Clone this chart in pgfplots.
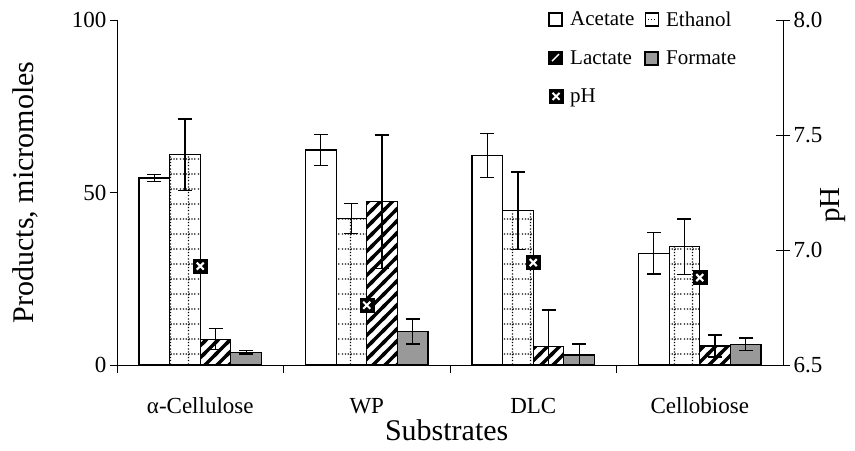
\documentclass[border=0pt]{standalone}
\usepackage{fontspec}
\setmainfont{Liberation Serif}
\usepackage{pgfplots}
\pgfplotsset{compat=1.18}
\usetikzlibrary{patterns}
\pgfdeclarepatternformonly{dotgrid}{\pgfqpoint{0pt}{0pt}}{\pgfqpoint{18pt}{15pt}}{\pgfqpoint{18pt}{15pt}}{%
  \pgfsetlinewidth{1.3pt}%
  \pgfsetdash{{1.3pt}{1.7pt}}{0pt}%
  \pgfpathmoveto{\pgfqpoint{0pt}{7.5pt}}\pgfpathlineto{\pgfqpoint{18pt}{7.5pt}}%
  \pgfpathmoveto{\pgfqpoint{9pt}{0pt}}\pgfpathlineto{\pgfqpoint{9pt}{15pt}}%
  \pgfusepath{stroke}}
\pgfdeclarepatternformonly{thickne}{\pgfqpoint{-2pt}{-2pt}}{\pgfqpoint{14pt}{14pt}}{\pgfqpoint{12pt}{12pt}}{%
  \pgfsetlinewidth{3.5pt}%
  \pgfpathmoveto{\pgfqpoint{-2pt}{-2pt}}\pgfpathlineto{\pgfqpoint{14pt}{14pt}}%
  \pgfpathmoveto{\pgfqpoint{-2pt}{10pt}}\pgfpathlineto{\pgfqpoint{2pt}{14pt}}%
  \pgfpathmoveto{\pgfqpoint{10pt}{-2pt}}\pgfpathlineto{\pgfqpoint{14pt}{2pt}}%
  \pgfusepath{stroke}}
\pgfplotsset{
  errs/.style={error bars/.cd, y dir=both, y explicit,
    error bar style={line width=1.3pt, black, solid},
    error mark options={rotate=90, line width=1.3pt, black, solid, mark size=7pt}},
}
\begin{document}
\begin{tikzpicture}
\begin{axis}[name=ax, scale only axis, width=666pt, height=345pt,
  xmin=-0.5, xmax=3.5, ymin=0, ymax=100,
  axis x line*=bottom, axis y line*=left,
  axis line style={line width=0.8pt},
  ybar=0pt, bar width=0.184,
  xtick={0,1,2,3}, xticklabels={α-Cellulose, WP, DLC, Cellobiose},
  major x tick style={draw=none},
  minor xtick={-0.5,0.5,1.5,2.5},
  minor tick length=8pt,
  ytick={0,50,100},
  tick align=outside, major tick length=7pt,
  tick style={black, line width=0.8pt},
  /pgf/number format/assume math mode=true,
  xticklabel style={font=\fontsize{23}{27}\selectfont, anchor=base, yshift=-41pt},
  yticklabel style={font=\fontsize{23}{27}\selectfont},
  ylabel={Products, micromoles},
  ylabel style={at={(axis description cs:-0.138,0.5)}, anchor=center, font=\fontsize{30}{34}\selectfont},
  xlabel={Substrates},
  xlabel style={at={(axis description cs:0.495,-0.188)}, anchor=center, font=\fontsize{30}{34}\selectfont},
  legend columns=2,
  legend style={at={(axis description cs:0.643,1.037)}, anchor=north west, draw=none, fill=none,
    font=\fontsize{21}{25}\selectfont, row sep=19pt,
    /tikz/every odd column/.append style={column sep=5pt},
    /tikz/every even column/.append style={column sep=8pt}},
  legend cell align=left,
]
\addplot[draw=black, line width=1.2pt, fill=white,
  legend image code/.code={\draw[draw=black, line width=1.2pt, fill=white] (0pt,-6.5pt) rectangle (13pt,6.5pt);}, errs]
  coordinates {(0,54.2) +- (0,1) (1,62.3) +- (0,4.5) (2,60.8) +- (0,6.4) (3,32.4) +- (0,6)};
\addlegendentry{Acetate}
\addplot[draw=black, line width=1.2pt, pattern=dotgrid,
  legend image code/.code={\draw[draw=black, line width=1.2pt, fill=white] (0pt,-6.5pt) rectangle (13pt,6.5pt); \draw[line width=1.2pt, dash pattern=on 1.2pt off 1.6pt] (3pt,0pt)--(10pt,0pt);}, errs]
  coordinates {(0,60.9) +- (0,10.4) (1,42.5) +- (0,4.3) (2,44.7) +- (0,11.2) (3,34.3) +- (0,8)};
\addlegendentry{Ethanol}
\addplot[draw=black, line width=1.2pt, pattern=thickne,
  legend image code/.code={\fill[black] (0pt,-6.5pt) rectangle (13pt,6.5pt); \draw[white, line width=1.5pt] (3pt,-3pt)--(10pt,4pt);}, errs]
  coordinates {(0,7.5) +- (0,3) (1,47.3) +- (0,19.4) (2,5.3) +- (0,10.6) (3,5.5) +- (0,3.2)};
\addlegendentry{Lactate}
\addplot[draw=black, line width=1.2pt, fill=black!40,
  legend image code/.code={\draw[draw=black, line width=1.8pt, fill=black!40] (0pt,-6.5pt) rectangle (13pt,6.5pt);}, errs]
  coordinates {(0,3.7) +- (0,0.5) (1,9.7) +- (0,3.6) (2,2.9) +- (0,3.2) (3,6) +- (0,1.8)};
\addlegendentry{Formate}
\addlegendimage{legend image code/.code={\fill[black] (0pt,-7pt) rectangle (14pt,7pt); \draw[white, line width=2pt] (3.5pt,-3.5pt)--(10.5pt,3.5pt) (3.5pt,3.5pt)--(10.5pt,-3.5pt);}}
\addlegendentry{pH}
\end{axis}
\begin{axis}[scale only axis, width=666pt, height=345pt,
  xmin=-0.5, xmax=3.5, ymin=6.5, ymax=8,
  axis y line*=right, axis x line=none,
  axis line style={line width=0.8pt},
  ytick={6.5,7,7.5,8},
  tick align=center, major tick length=14pt,
  tick style={black, line width=0.8pt},
  /pgf/number format/assume math mode=true,
  yticklabel style={font=\fontsize{23}{27}\selectfont, /pgf/number format/.cd, fixed, fixed zerofill, precision=1},
  ylabel={pH},
  ylabel style={at={(axis description cs:1.075,0.464)}, anchor=center, font=\fontsize{29}{33}\selectfont},
  clip=false,
]
\addplot[only marks, mark=square*, mark size=7pt, mark options={fill=black, draw=black}]
  coordinates {(0,6.93) (1,6.76) (2,6.945) (3,6.88)};
\addplot[only marks, mark=x, mark size=5pt, mark options={white, line width=2pt}]
  coordinates {(0,6.93) (1,6.76) (2,6.945) (3,6.88)};
\end{axis}
\path ([shift={(-117pt,-85pt)}]ax.south west) rectangle ([shift={(72pt,20pt)}]ax.north east);
\end{tikzpicture}
\end{document}
